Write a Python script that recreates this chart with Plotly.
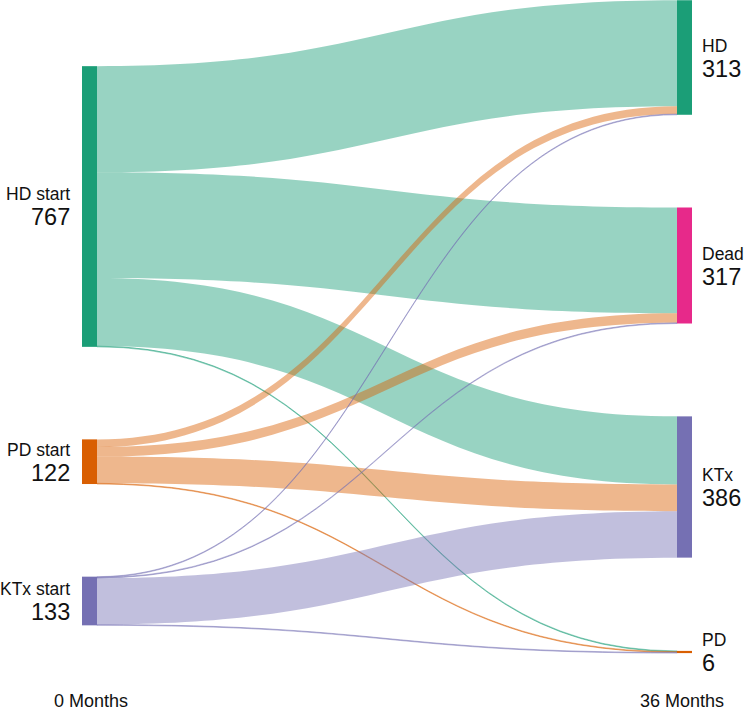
import plotly.graph_objects as go

# ---- data ----
node_names = ["HD start", "PD start", "KTx start", "HD", "Dead", "KTx", "PD"]
node_totals = [767, 122, 133, 313, 317, 386, 6]
link_source = [0, 0, 0, 0, 1, 1, 1, 1, 2, 2, 2, 2]
link_target = [3, 4, 5, 6, 3, 4, 5, 6, 3, 4, 5, 6]
link_value = [290, 289, 186, 2, 21, 26, 73, 2, 2, 2, 127, 2]
time_labels = ["0 Months", "36 Months"]

# ---- styles / layout ----
W, H = 744, 713
PLOT_H = 653  # pixel height of sankey domain (top at 0)
node_colors = ["#1b9e77", "#d95f02", "#7570b3", "#1b9e77", "#e7298a", "#7570b3", "#d95f02"]
link_rgb = {0: (27, 158, 119), 1: (217, 95, 2), 2: (117, 112, 179)}
link_colors = ["rgba(%d,%d,%d,0.45)" % link_rgb[s] for s in link_source]

node_x_px = [89.5, 89.5, 89.5, 684.5, 684.5, 684.5, 684.5]
node_y_px = [206.5, 461.7, 601.0, 57.5, 265.5, 487.0, 652.0]
node_x = [v / W for v in node_x_px]
node_y = [v / PLOT_H for v in node_y_px]

fig = go.Figure(go.Sankey(
    arrangement="fixed",
    domain=dict(x=[0, 1], y=[1 - PLOT_H / H, 1]),
    node=dict(
        label=["" for _ in node_names],
        color=node_colors,
        x=node_x,
        y=node_y,
        pad=93,
        thickness=15,
        line=dict(width=0),
        hoverinfo="skip",
    ),
    link=dict(
        source=link_source,
        target=link_target,
        value=link_value,
        color=link_colors,
        line=dict(width=0),
        hoverinfo="skip",
    ),
))

annotations = []
for i, name in enumerate(node_names):
    cy = node_y_px[i]
    left = node_x_px[i] < W / 2
    xpx = 72 if left else 700
    anchor = "right" if left else "left"
    annotations.append(dict(
        x=xpx / W, y=1 - (cy - 12) / H, xref="paper", yref="paper",
        text=name, showarrow=False, xanchor=anchor, yanchor="middle",
        font=dict(family="Arial", size=17.5, color="#111"),
    ))
    annotations.append(dict(
        x=xpx / W, y=1 - (cy + 11) / H, xref="paper", yref="paper",
        text=str(node_totals[i]), showarrow=False, xanchor=anchor, yanchor="middle",
        font=dict(family="Arial", size=23.5, color="#111"),
    ))

annotations.append(dict(x=52 / W, y=1 - 701 / H, xref="paper", yref="paper",
                        text=time_labels[0], showarrow=False, xanchor="left", yanchor="middle",
                        font=dict(family="Arial", size=18, color="#111")))
annotations.append(dict(x=726 / W, y=0, xref="paper", yref="paper",
                        text=time_labels[1], showarrow=False, xanchor="right", yanchor="bottom",
                        font=dict(family="Arial", size=18, color="#111")))

fig.update_layout(
    width=W, height=H,
    margin=dict(l=0, r=0, t=0, b=0),
    paper_bgcolor="white",
    plot_bgcolor="white",
    annotations=annotations,
    font=dict(family="Arial"),
)

fig.write_html("out.html")
